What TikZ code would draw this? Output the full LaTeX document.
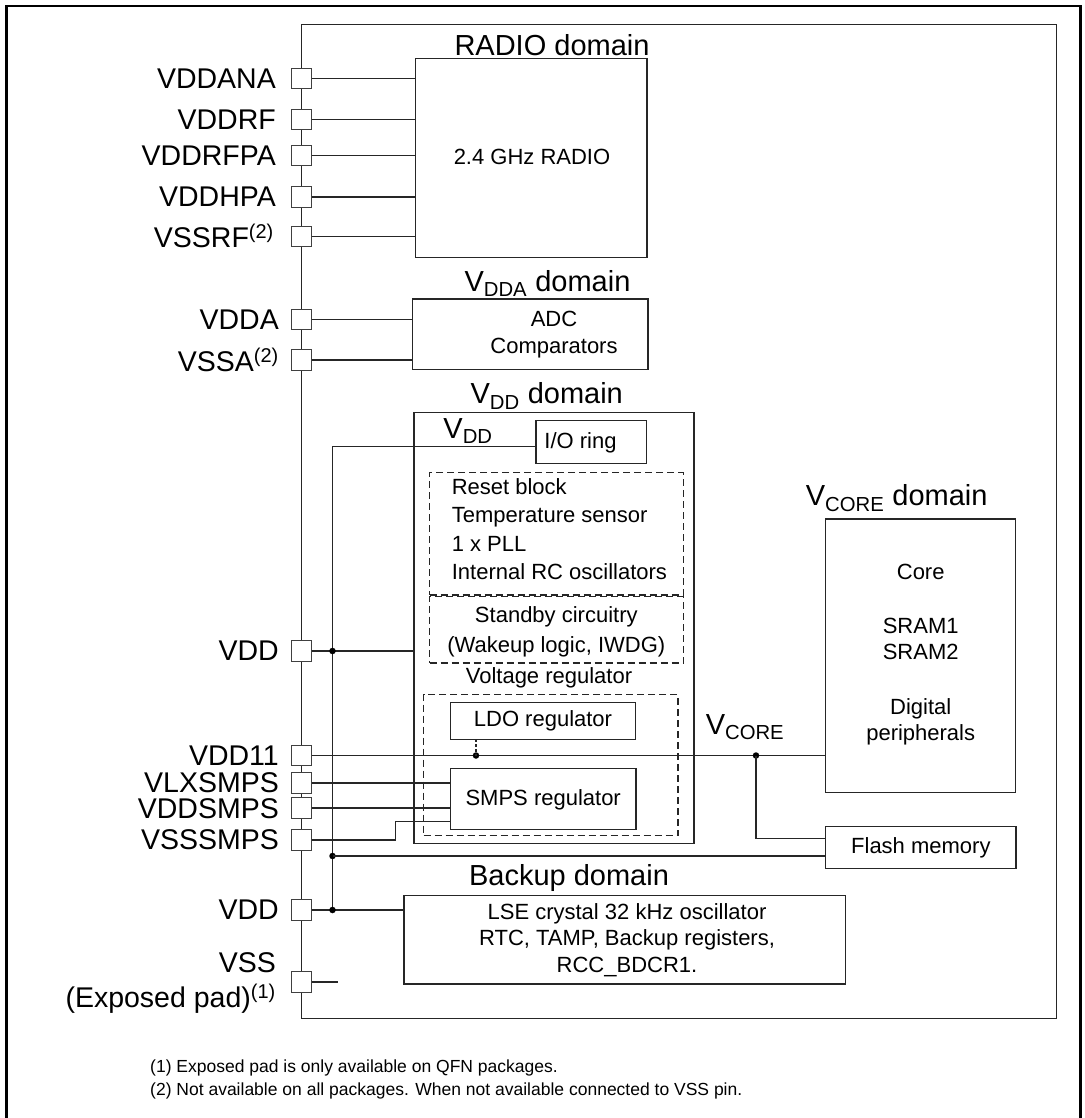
\documentclass[tikz,border=0pt]{standalone}
\usepackage{fontspec}
\setmainfont{Liberation Sans}
\begin{document}
\begin{tikzpicture}[x=1pt,y=-1pt,
  wire/.style={line width=1.3pt, draw=black!85},
  blk/.style={draw=black!85, line width=1.4pt, inner sep=0pt, outer sep=0pt, rectangle},
  dblk/.style={blk, dash pattern=on 7pt off 4pt},
  pad/.style={draw=black!75, fill=white, line width=1pt, minimum width=20pt, minimum height=20.5pt, inner sep=0pt, outer sep=0pt},
  plbl/.style={anchor=east, inner sep=0pt, font=\fontsize{28.5}{35}\selectfont},
  ttl/.style={inner sep=0pt, font=\fontsize{29}{34}\selectfont},
  txt/.style={inner sep=0pt, align=center, font=\fontsize{22}{27.6}\selectfont},
  foot/.style={inner sep=0pt, anchor=west, font=\fontsize{17.5}{21}\selectfont},
  jdot/.style={circle, fill=black, inner sep=0pt, minimum size=6.5pt},
]
\useasboundingbox (0,0) rectangle (1084,1118);
% outer frame
\draw[line width=2.6pt] (6.7,1130) -- (6.7,6) -- (1080.5,6) -- (1080.5,1130);
% chip outline (left edge is the supply bus)
\draw[blk] (301.5,24.3) rectangle (1056.7,1018.3);

% ---------- blocks ----------
\node[blk, minimum width=231.3pt, minimum height=199pt] (radio) at (531.35,157.8) {};
\node[blk, minimum width=235.7pt, minimum height=70.3pt] (vdda) at (530.15,334.15) {};
\node[blk, minimum width=280pt, minimum height=430.8pt] (vdd) at (554,628.1) {};
\node[blk, minimum width=110.5pt, minimum height=42.8pt] (io) at (591.05,441.9) {};
\node[dblk, minimum width=253.7pt, minimum height=122.3pt] (d1) at (556.35,533.85) {};
\node[dblk, minimum width=253.7pt, minimum height=66.3pt] (d2) at (556.35,629.65) {};
\node[dblk, minimum width=254.2pt, minimum height=141.2pt] (d3) at (550.7,764.9) {};
\node[blk, minimum width=184.8pt, minimum height=37pt] (ldo) at (543,720.8) {};
\node[blk, minimum width=185.2pt, minimum height=61pt] (smps) at (543.2,798.8) {};
\node[blk, minimum width=190pt, minimum height=273.7pt] (vcore) at (920.7,655.85) {};
\node[blk, minimum width=190.3pt, minimum height=41.6pt] (flash) at (920.85,847.5) {};
\node[blk, minimum width=441.4pt, minimum height=88.5pt] (backup) at (624.7,939.75) {};

% ---------- titles ----------
\node[ttl] (tRadio) at (552,45) {RADIO domain};
\node[ttl] (tVdda) at (547.5,283.5) {V\textsubscript{DDA} domain};
\node[ttl] (tVdd) at (546.7,396) {V\textsubscript{DD} domain};
\node[ttl] (tVcore) at (896.7,498) {V\textsubscript{CORE} domain};
\node[ttl] (tBackup) at (569,878) {Backup domain};
\node[ttl] (lVdd) at (468,431) {V\textsubscript{DD}};
\node[ttl] (lVcore) at (745,727) {V\textsubscript{CORE}};

% ---------- block texts ----------
\node[txt] (xRadio) at (532,157) {2.4 GHz RADIO};
\node[txt] (xVdda) at (554,334.5) {ADC\\Comparators};
\node[txt] (xIo) at (580.5,443) {I/O ring};
\node[txt, anchor=west, align=left, font=\fontsize{22}{28.3}\selectfont] (xD1) at (451.6,529.2)
  {Reset block\\Temperature sensor\\1 x PLL\\Internal RC oscillators};
\node[txt, font=\fontsize{22}{30}\selectfont] (xD2) at (556.3,631.7) {Standby circuitry\\(Wakeup logic, IWDG)};
\node[txt] (xVreg) at (549,678.3) {Voltage regulator};
\node[txt] (xLdo) at (543,721) {LDO regulator};
\node[txt] (xSmps) at (543.2,800) {SMPS regulator};
\node[txt, font=\fontsize{22}{26.7}\selectfont] (xVcore) at (920.7,655)
  {Core\\[26.6pt]SRAM1\\SRAM2\\[27.6pt]Digital\\peripherals};
\node[txt] (xFlash) at (920.85,848) {Flash memory};
\node[txt, font=\fontsize{22}{26.7}\selectfont] (xBackup) at (627,940)
  {LSE crystal 32 kHz oscillator\\RTC, TAMP, Backup registers,\\RCC\_BDCR1.};

% ---------- pads ----------
\node[pad] (pA) at (301.5,78.7) {};
\node[pad] (pB) at (301.5,119.7) {};
\node[pad] (pC) at (301.5,155.3) {};
\node[pad] (pD) at (301.5,197) {};
\node[pad] (pE) at (301.5,236.3) {};
\node[pad] (pF) at (301.5,319.3) {};
\node[pad] (pG) at (301.5,360) {};
\node[pad] (pH) at (301.5,651) {};
\node[pad] (pI) at (301.5,755.5) {};
\node[pad] (pJ) at (301.5,783) {};
\node[pad] (pK) at (301.5,808) {};
\node[pad] (pL) at (301.5,840) {};
\node[pad] (pM) at (301.5,910) {};
\node[pad] (pN) at (301.5,982) {};

% ---------- pad labels ----------
\node[plbl] (lA) at (276,78.7) {VDDANA};
\node[plbl] (lB) at (276,119.7) {VDDRF};
\node[plbl] (lC) at (276,155.3) {VDDRFPA};
\node[plbl] (lD) at (276,197) {VDDHPA};
\node[plbl] (lE) at (274,236.3) {VSSRF\textsuperscript{(2)}};
\node[plbl] (lF) at (279,319.3) {VDDA};
\node[plbl] (lG) at (279,360) {VSSA\textsuperscript{(2)}};
\node[plbl] (lH) at (279,651) {VDD};
\node[plbl] (lI) at (279,755.5) {VDD11};
\node[plbl] (lJ) at (279,783) {VLXSMPS};
\node[plbl] (lK) at (279,809) {VDDSMPS};
\node[plbl] (lL) at (279,840) {VSSSMPS};
\node[plbl] (lM) at (279,910) {VDD};
\node[plbl, align=right] (lN) at (276,983) {VSS\\(Exposed pad)\textsuperscript{(1)}};

% ---------- connectors ----------
\foreach \p in {pA,pB,pC,pD,pE} \draw[wire] (\p.east) -- (radio.west |- \p.east);
\foreach \p in {pF,pG} \draw[wire] (\p.east) -- (vdda.west |- \p.east);
\foreach \p in {pJ,pK} \draw[wire] (\p.east) -- (smps.west |- \p.east);
\draw[wire] (pH.east) -- (vdd.west |- pH.east);
\draw[wire] (pI.east) -- (vcore.west |- pI.east);
\draw[wire] (pM.east) -- (backup.west |- pM.east);
\coordinate (vssend) at (338,982);
\draw[wire] (pN.east) -- (vssend);
\coordinate (jog) at (395.5,821.7);
\draw[wire] (pL.east) -| (jog) -- (smps.west |- jog);

% second VDD bus
\coordinate (b2top) at (332.5,446.5);
\coordinate (b2bot) at (332.5,910);
\draw[wire] (io.west |- b2top) -- (b2top) -- (b2bot);
\node[jdot] (jH) at (332.5,651) {};
\node[jdot] (jBus) at (332.5,856) {};
\node[jdot] (jM) at (332.5,910) {};
\draw[wire] (jBus.center) -- (flash.west |- jBus.center);

% VCORE net
\node[jdot] (jLdo) at (476,755.5) {};
\draw[wire, dash pattern=on 3pt off 2pt] (ldo.south -| jLdo) -- (jLdo.center);
\node[jdot] (jV) at (756,755.5) {};
\draw[wire] (jV.center) |- ([yshift=9.2pt]flash.west);

% ---------- footnotes ----------
\node[foot] (f1) at (150,1068) {(1) Exposed pad is only available on QFN packages.};
\node[foot] (f2) at (150,1091) {(2) Not available on all packages. When not available connected to VSS pin.};
\end{tikzpicture}
\end{document}
